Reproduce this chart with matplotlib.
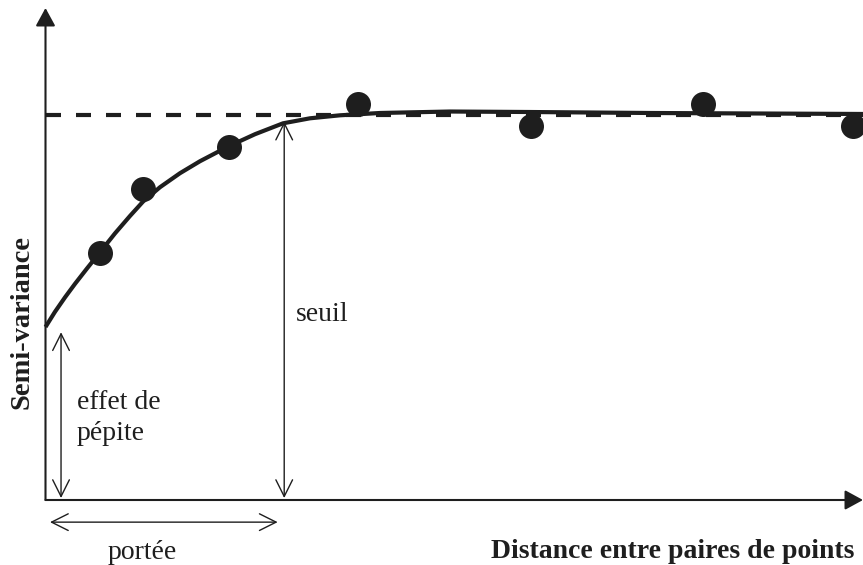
import numpy as np
import matplotlib
matplotlib.use("Agg")
import matplotlib.pyplot as plt

plt.rcParams['font.family'] = ['Liberation Serif', 'DejaVu Serif']

# observed semi-variances (arbitrary units, 0..100 on both axes)
dist_pts = [6.7, 11.9, 22.45, 38.2, 59.4, 80.4, 98.8]
semi_pts = [50.2, 63.2, 71.7, 80.5, 76.0, 80.5, 76.0]

# fitted model curve
dist_fit = [0, 1.16, 2.39, 3.61, 5.08, 6.67, 8.50, 10.34, 11.93, 14.01,
            16.45, 18.90, 22.32, 25.63, 29.05, 32.35, 36.02, 40.92, 49.48,
            59.27, 73.94, 100]
semi_fit = [35.16, 38.25, 41.20, 43.94, 47.07, 50.37, 54.19, 57.74, 60.65,
            63.58, 66.42, 68.86, 71.83, 74.35, 76.56, 77.58, 78.19, 78.66,
            78.96, 78.86, 78.66, 78.46]

sill = 78.25
nugget = 34.1
range_x = 28.4
sill_x = 29.2

fig = plt.figure(figsize=(8.63, 5.65), dpi=100)
ax = fig.add_axes([45.5/863, 65/565, 817.5/863, 492/565])
ax.set_xlim(0, 100)
ax.set_ylim(0, 100)
ax.axis('off')

# axes with arrow heads
ax.annotate('', xy=(0, 100), xytext=(0, 0), annotation_clip=False,
            arrowprops=dict(arrowstyle='-|>,head_length=0.55,head_width=0.3',
                            mutation_scale=20, lw=1.5, color='#1e1e1e',
                            shrinkA=0, shrinkB=0))
ax.annotate('', xy=(100, 0), xytext=(0, 0), annotation_clip=False,
            arrowprops=dict(arrowstyle='-|>,head_length=0.55,head_width=0.3',
                            mutation_scale=20, lw=1.5, color='#1e1e1e',
                            shrinkA=0, shrinkB=0))

# sill
ax.plot([0, 100], [sill, sill], color='#1e1e1e', lw=3,
        ls=(0, (3.6, 3.6)), clip_on=False)
# model
ax.plot(dist_fit, semi_fit, color='#1e1e1e', lw=3, clip_on=False,
        solid_capstyle='butt', solid_joinstyle='round')
# points
ax.plot(dist_pts, semi_pts, 'o', color='#1e1e1e', ms=18, mew=0, clip_on=False)

arr = dict(arrowstyle='<->,head_length=0.4,head_width=0.2', mutation_scale=30,
           lw=1.0, color='#1e1e1e', shrinkA=0, shrinkB=0)
ax.annotate('', xy=(1.9, nugget), xytext=(1.9, 0.4), arrowprops=arr,
            annotation_clip=False)
ax.annotate('', xy=(sill_x, 76.9), xytext=(sill_x, 0.4), arrowprops=arr,
            annotation_clip=False)
ax.annotate('', xy=(0.55, -4.5), xytext=(range_x, -4.5), arrowprops=arr,
            annotation_clip=False)

tc = '#1e1e1e'
ax.text(3.85, 16.6, 'effet de\npépite', fontsize=20, color=tc,
        ha='left', va='center', linespacing=1.3)
ax.text(30.6, 37.8, 'seuil', fontsize=20, color=tc, ha='left', va='center')
ax.text(11.8, -10.6, 'portée', fontsize=20, color=tc, ha='center', va='center')
ax.text(99.0, -10.4, 'Distance entre paires de points', fontsize=20,
        fontweight='bold', color=tc, ha='right', va='center')
ax.text(-2.9, 36.2, 'Semi-variance', fontsize=20.5, fontweight='bold',
        color=tc, ha='center', va='center', rotation=90)

fig.savefig('out.png', dpi=100, facecolor='white')
